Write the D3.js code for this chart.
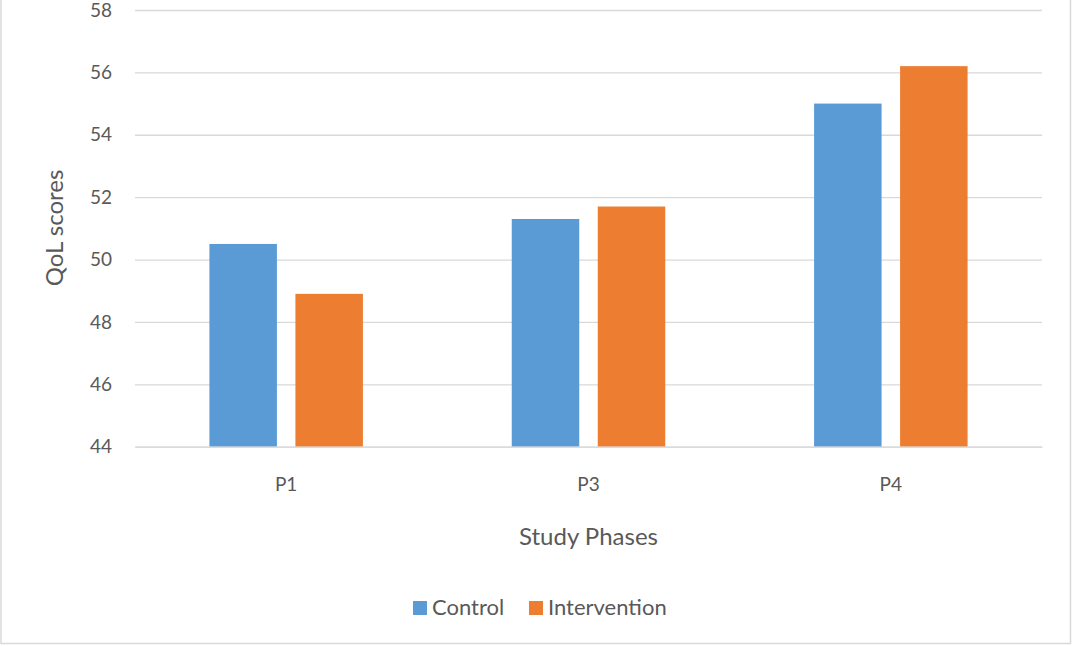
<!DOCTYPE html>
<html>
<head>
<meta charset="utf-8">
<script src="https://cdn.jsdelivr.net/npm/d3@7"></script>
<style>
  html, body { margin: 0; padding: 0; background: #fff; }
  svg { display: block; }
  text { font-family: Lato, "Open Sans", sans-serif; fill: #595959; }
</style>
</head>
<body>
<svg id="chart" width="1072" height="646"></svg>
<script>
const categories = ["P1", "P3", "P4"];
const seriesNames = ["Control", "Intervention"];
const controlValues = [50.5, 51.3, 55.0];
const interventionValues = [48.9, 51.7, 56.2];
const yTicks = [44, 46, 48, 50, 52, 54, 56, 58];
const colors = ["#5b9bd5", "#ed7d31"];

const svg = d3.select("#chart");
const W = 1072, H = 646;
const m = { left: 135, right: 1042, top: 10, bottom: 446.7 };

// border
svg.append("rect").attr("x", 1).attr("y", -2).attr("width", W - 2.5).attr("height", H - 0.5)
  .attr("fill", "none").attr("stroke", "#d9d9d9").attr("stroke-width", 1.5);

const x = d3.scaleBand().domain(categories).range([m.left, m.right]);
const y = d3.scaleLinear().domain([44, 58]).range([m.bottom, m.top]);

// gridlines
const yAxis = d3.axisLeft(y).tickValues(yTicks).tickSize(-(m.right - m.left)).tickPadding(23);
const gy = svg.append("g").attr("transform", `translate(${m.left},0)`).call(yAxis);
gy.select(".domain").remove();
gy.selectAll(".tick line").attr("stroke", "#d9d9d9").attr("stroke-width", 1.3);
gy.selectAll(".tick text").attr("font-size", 19).attr("fill", "#595959")
  .style("font-family", "Lato, sans-serif");

// bars
const barW = 67.5, gap = 18.5;
const data = categories.map((c, i) => ({ cat: c, vals: [controlValues[i], interventionValues[i]] }));
const groups = svg.append("g").selectAll("g").data(data).join("g")
  .attr("transform", d => `translate(${x(d.cat) + x.bandwidth() / 2},0)`);
groups.selectAll("rect").data(d => d.vals.map((v, k) => ({ v, k }))).join("rect")
  .attr("x", d => d.k === 0 ? -(barW + gap / 2) : gap / 2)
  .attr("width", barW)
  .attr("y", d => y(d.v))
  .attr("height", d => y(44) - y(d.v))
  .attr("fill", d => colors[d.k]);

// x axis baseline
const xAxis = d3.axisBottom(x).tickSize(0).tickPadding(31);
const gx = svg.append("g").attr("transform", `translate(0,${m.bottom})`).call(xAxis);
gx.select(".domain").attr("stroke", "#d9d9d9").attr("stroke-width", 1.3);
gx.selectAll(".tick text").attr("font-size", 19).attr("fill", "#595959")
  .style("font-family", "Lato, sans-serif");

// axis titles
svg.append("text").attr("x", (m.left + m.right) / 2).attr("y", 545)
  .attr("text-anchor", "middle").attr("font-size", 24).text("Study Phases");
svg.append("text").attr("transform", "translate(63,228) rotate(-90)")
  .attr("text-anchor", "middle").attr("font-size", 24).text("QoL scores");

// legend
const legendX = [413, 529];
const lg = svg.append("g").selectAll("g").data(seriesNames).join("g")
  .attr("transform", (d, i) => `translate(${legendX[i]},601)`);
lg.append("rect").attr("width", 14).attr("height", 14).attr("fill", (d, i) => colors[i]);
lg.append("text").attr("x", 19).attr("y", 14).attr("font-size", 22).text(d => d);
</script>
</body>
</html>
